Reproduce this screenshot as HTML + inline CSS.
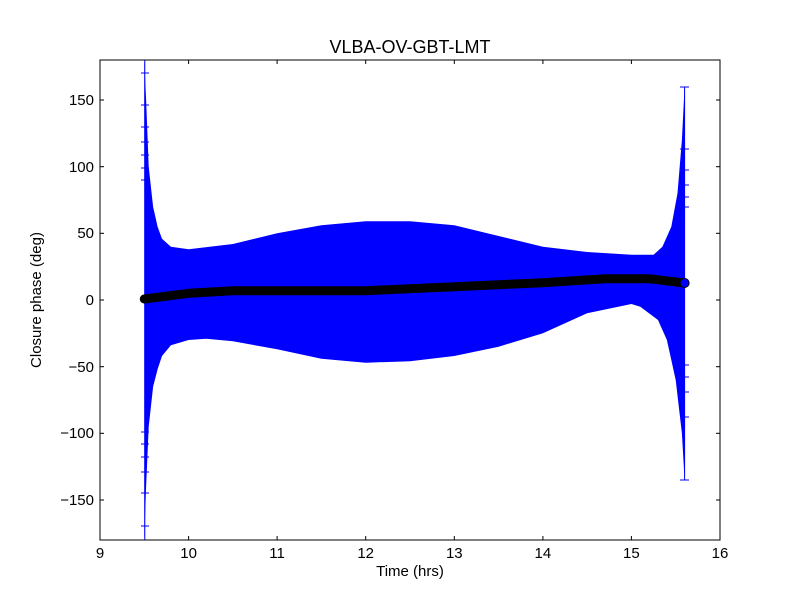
<!DOCTYPE html>
<html><head><meta charset="utf-8"><style>body{margin:0;background:#fff}svg{display:block}</style></head>
<body>
<svg width="800" height="600" xmlns="http://www.w3.org/2000/svg" font-family="Liberation Sans, DejaVu Sans, sans-serif">
<rect width="800" height="600" fill="#fff"/>
<clipPath id="c"><rect x="100" y="60" width="620" height="480"/></clipPath>
<g clip-path="url(#c)">
<polygon fill="#0000ff" points="144.3,60 146.1,100 148.7,166.7 153.1,206.7 157.6,226.7 162,238.7 170.9,246.7 188.6,249.3 232.9,244 277.1,233.3 321.4,225.3 365.7,221.3 410,221.3 454.3,225.3 498.6,236 542.9,246.7 587.1,252 631.4,254.7 653.6,254.7 662.4,246.7 671.3,226.7 677.5,193.3 681.9,140 684.6,86.7 684.6,480 681.9,433.3 675.7,380 666.9,340 658,320 640.3,306.7 631.4,304 587.1,313.3 542.9,333.3 498.6,346.7 454.3,356 410,361.3 365.7,362.7 321.4,358.7 277.1,349.3 232.9,341.3 206.3,338.7 188.6,340 170.9,345.3 162,356 157.6,369.3 153.1,386.7 148.7,426.7 146.1,486.7 144.3,540"/>
<g stroke="#0000ff" stroke-width="1">
<line x1="144.8" y1="60" x2="144.8" y2="540"/>
<line x1="684.6" y1="86.7" x2="684.6" y2="480"/>
<line x1="141" y1="73" x2="149" y2="73"/><line x1="141" y1="105" x2="149" y2="105"/><line x1="141" y1="127" x2="149" y2="127"/><line x1="141" y1="142" x2="149" y2="142"/><line x1="141" y1="155" x2="149" y2="155"/><line x1="141" y1="168" x2="149" y2="168"/><line x1="141" y1="180" x2="149" y2="180"/>
<line x1="141" y1="526" x2="149" y2="526"/><line x1="141" y1="493" x2="149" y2="493"/><line x1="141" y1="472" x2="149" y2="472"/><line x1="141" y1="457" x2="149" y2="457"/><line x1="141" y1="444" x2="149" y2="444"/><line x1="141" y1="432" x2="149" y2="432"/>
<line x1="680" y1="87" x2="689" y2="87"/><line x1="680" y1="149" x2="689" y2="149"/><line x1="680" y1="170" x2="689" y2="170"/><line x1="680" y1="185" x2="689" y2="185"/><line x1="680" y1="197" x2="689" y2="197"/><line x1="680" y1="207" x2="689" y2="207"/>
<line x1="680" y1="480" x2="689" y2="480"/><line x1="680" y1="417" x2="689" y2="417"/><line x1="680" y1="392" x2="689" y2="392"/><line x1="680" y1="377" x2="689" y2="377"/><line x1="680" y1="365" x2="689" y2="365"/>
</g>
<polyline fill="none" stroke="#000" stroke-width="9" stroke-linecap="round" stroke-linejoin="round" points="144.3,299 188.6,293.3 232.9,290.7 365.7,290.7 454.3,286.7 542.9,282.7 604.9,278.7 649.1,278.7 684.6,283"/>
<circle cx="684.6" cy="283" r="4.5" fill="#0000ff" stroke="#000"/>
</g>
<rect x="100" y="60" width="620" height="480" fill="none" stroke="#000" stroke-width="1"/>
<g stroke="#000" stroke-width="1">
<line x1="100" y1="540" x2="100" y2="536"/><line x1="188.6" y1="540" x2="188.6" y2="536"/><line x1="277.1" y1="540" x2="277.1" y2="536"/><line x1="365.7" y1="540" x2="365.7" y2="536"/><line x1="454.3" y1="540" x2="454.3" y2="536"/><line x1="542.9" y1="540" x2="542.9" y2="536"/><line x1="631.4" y1="540" x2="631.4" y2="536"/>
<line x1="188.6" y1="60" x2="188.6" y2="64"/><line x1="277.1" y1="60" x2="277.1" y2="64"/><line x1="365.7" y1="60" x2="365.7" y2="64"/><line x1="454.3" y1="60" x2="454.3" y2="64"/><line x1="542.9" y1="60" x2="542.9" y2="64"/><line x1="631.4" y1="60" x2="631.4" y2="64"/>
<line x1="100" y1="100" x2="104" y2="100"/><line x1="100" y1="166.7" x2="104" y2="166.7"/><line x1="100" y1="233.3" x2="104" y2="233.3"/><line x1="100" y1="300" x2="104" y2="300"/><line x1="100" y1="366.7" x2="104" y2="366.7"/><line x1="100" y1="433.3" x2="104" y2="433.3"/><line x1="100" y1="500" x2="104" y2="500"/>
<line x1="720" y1="100" x2="716" y2="100"/><line x1="720" y1="166.7" x2="716" y2="166.7"/><line x1="720" y1="233.3" x2="716" y2="233.3"/><line x1="720" y1="300" x2="716" y2="300"/><line x1="720" y1="366.7" x2="716" y2="366.7"/><line x1="720" y1="433.3" x2="716" y2="433.3"/><line x1="720" y1="500" x2="716" y2="500"/>
</g>
<g font-size="15" text-anchor="middle" fill="#000">
<text x="100" y="558">9</text><text x="188.6" y="558">10</text><text x="277.1" y="558">11</text><text x="365.7" y="558">12</text><text x="454.3" y="558">13</text><text x="542.9" y="558">14</text><text x="631.4" y="558">15</text><text x="720" y="558">16</text>
</g>
<g font-size="15" text-anchor="end" fill="#000">
<text x="94" y="105">150</text><text x="94" y="172">100</text><text x="94" y="238">50</text><text x="94" y="305">0</text><text x="94" y="372">−50</text><text x="94" y="438">−100</text><text x="94" y="505">−150</text>
</g>
<text x="410" y="576" font-size="15" text-anchor="middle">Time (hrs)</text>
<text transform="translate(41,300) rotate(-90)" font-size="15" text-anchor="middle">Closure phase (deg)</text>
<text x="410" y="53" font-size="18" text-anchor="middle">VLBA-OV-GBT-LMT</text>
</svg>
</body></html>
